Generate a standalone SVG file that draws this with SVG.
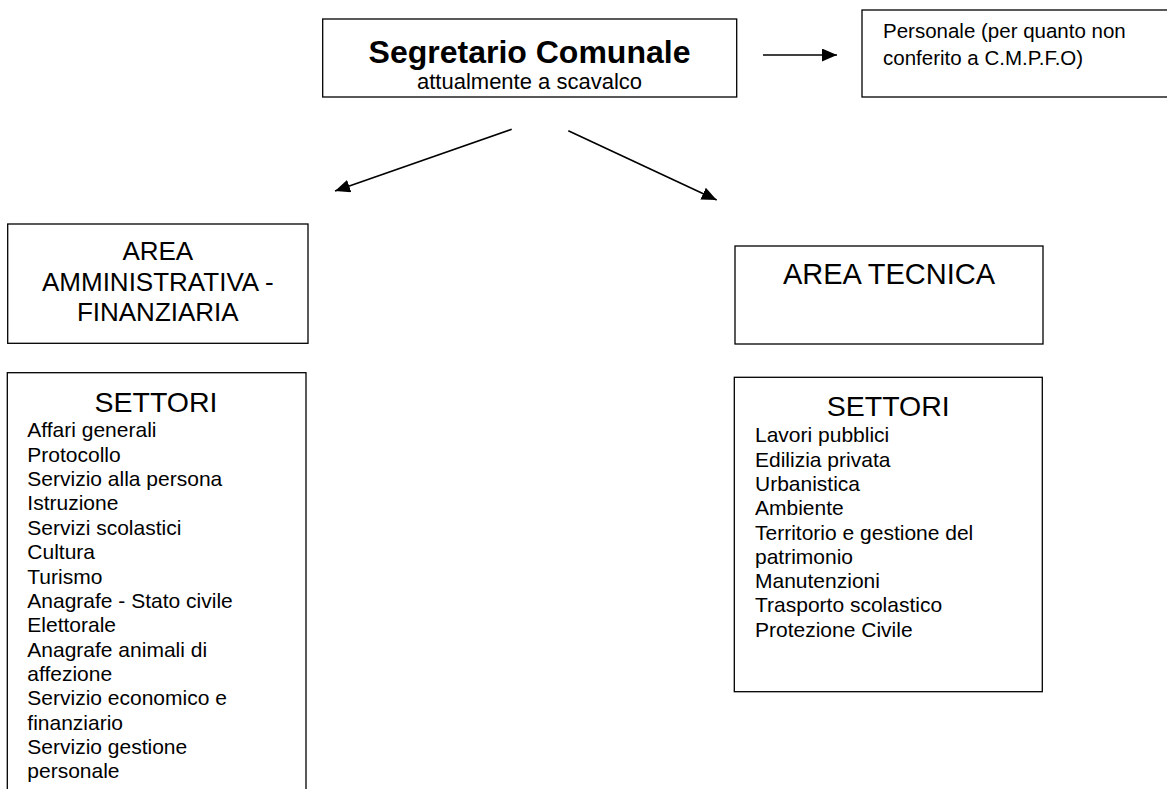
<svg xmlns="http://www.w3.org/2000/svg" width="1167" height="789" viewBox="0 0 1167 789">
<style>
.box{fill:#fff;stroke:#000;stroke-width:1.3}
.t{font-family:"Liberation Sans",Arial,sans-serif;fill:#000}
.c{text-anchor:middle}
.conn{stroke:#000;stroke-width:1.6;fill:none;marker-end:url(#ah)}
.li{font-size:21px}
</style>
<defs>
<marker id="ah" markerUnits="userSpaceOnUse" markerWidth="16" markerHeight="14" refX="15" refY="6.5" orient="auto">
<path d="M0,0 L15,6.5 L0,13 Z" fill="#000"/>
</marker>
</defs>
<rect width="1167" height="789" fill="#fff"/>
<g id="connectors">
<line class="conn" x1="763" y1="55" x2="837" y2="55"/>
<line class="conn" x1="511.7" y1="129.3" x2="335" y2="191"/>
<line class="conn" x1="568.3" y1="130.7" x2="716.7" y2="200"/>
</g>
<g id="segretario">
<rect class="box" x="322.7" y="19" width="414" height="78"/>
<text class="t c" x="529.5" y="63" font-size="32" font-weight="bold">Segretario Comunale</text>
<text class="t c" x="529.5" y="89" font-size="22">attualmente a scavalco</text>
</g>
<g id="personale">
<rect class="box" x="862" y="10" width="320" height="87"/>
<text class="t" x="883" y="37.5" font-size="20.5">Personale (per quanto non</text>
<text class="t" x="883" y="65" font-size="20.5">conferito a C.M.P.F.O)</text>
</g>
<g id="area-amm">
<rect class="box" x="7.7" y="224" width="300.3" height="119.3"/>
<text class="t c" x="157.8" y="260" font-size="26">AREA</text>
<text class="t c" x="157.8" y="290.5" font-size="26">AMMINISTRATIVA -</text>
<text class="t c" x="157.8" y="321" font-size="26">FINANZIARIA</text>
</g>
<g id="settori-amm">
<rect class="box" x="7.3" y="372.7" width="298.7" height="440"/>
<text class="t c" x="156" y="411.7" font-size="28.5">SETTORI</text>
<text class="t li" x="27.3" y="437.3">Affari generali</text>
<text class="t li" x="27.3" y="461.7">Protocollo</text>
<text class="t li" x="27.3" y="486">Servizio alla persona</text>
<text class="t li" x="27.3" y="510.4">Istruzione</text>
<text class="t li" x="27.3" y="534.7">Servizi scolastici</text>
<text class="t li" x="27.3" y="559.1">Cultura</text>
<text class="t li" x="27.3" y="583.5">Turismo</text>
<text class="t li" x="27.3" y="607.8">Anagrafe - Stato civile</text>
<text class="t li" x="27.3" y="632.2">Elettorale</text>
<text class="t li" x="27.3" y="656.5">Anagrafe animali di</text>
<text class="t li" x="27.3" y="680.9">affezione</text>
<text class="t li" x="27.3" y="705.3">Servizio economico e</text>
<text class="t li" x="27.3" y="729.6">finanziario</text>
<text class="t li" x="27.3" y="754">Servizio gestione</text>
<text class="t li" x="27.3" y="778.4">personale</text>
</g>
<g id="area-tec">
<rect class="box" x="735" y="246" width="308" height="98"/>
<text class="t c" x="889" y="284.3" font-size="29">AREA TECNICA</text>
</g>
<g id="settori-tec">
<rect class="box" x="734.3" y="377.3" width="308" height="314.4"/>
<text class="t c" x="888.3" y="416" font-size="28.5">SETTORI</text>
<text class="t li" x="755" y="442.3">Lavori pubblici</text>
<text class="t li" x="755" y="466.6">Edilizia privata</text>
<text class="t li" x="755" y="490.9">Urbanistica</text>
<text class="t li" x="755" y="515.2">Ambiente</text>
<text class="t li" x="755" y="539.5">Territorio e gestione del</text>
<text class="t li" x="755" y="563.8">patrimonio</text>
<text class="t li" x="755" y="588.1">Manutenzioni</text>
<text class="t li" x="755" y="612.4">Trasporto scolastico</text>
<text class="t li" x="755" y="636.7">Protezione Civile</text>
</g>
</svg>
